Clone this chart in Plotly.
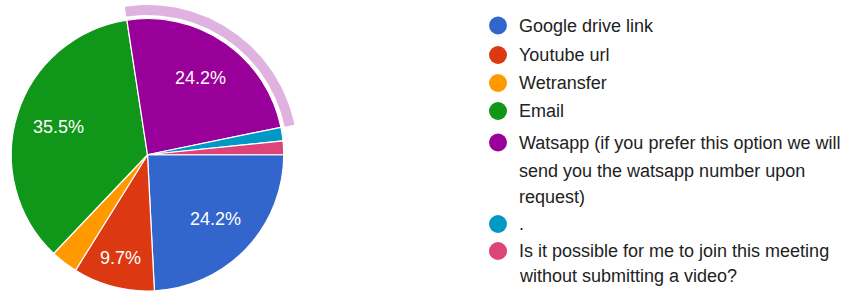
import numpy as np
import plotly.graph_objects as go

# ---------------- data ----------------
labels = [
    "Google drive link",
    "Youtube url",
    "Wetransfer",
    "Email",
    "Watsapp (if you prefer this option we will send you the watsapp number upon request)",
    ".",
    "Is it possible for me to join this meeting without submitting a video?",
]
legend_lines = [
    ["Google drive link"],
    ["Youtube url"],
    ["Wetransfer"],
    ["Email"],
    ["Watsapp (if you prefer this option we will", "send you the watsapp number upon", "request)"],
    ["."],
    ["Is it possible for me to join this meeting", "without submitting a video?"],
]
counts = [15, 6, 2, 22, 15, 1, 1]
colors = ["#3366CC", "#DC3912", "#FF9900", "#109618", "#990099", "#0099C6", "#DD4477"]
highlight_index = 4
highlight_color = "#E0B2E0"

# ---------------- layout constants ----------------
W, H = 849, 291
cx, cy, R = 147.5, 155.0, 136.5
FONT = "Arial, Liberation Sans, Helvetica, sans-serif"
# vertical centre (px from top) of every legend text line, in order
legend_line_y = [25.5, 55, 83, 111, 142.5, 170.5, 197, 224, 251, 275.5]
LX_DOT, LX_TEXT = 498, 517

total = sum(counts)
shares = [c / total for c in counts]
cum = np.cumsum([0] + shares)

fig = go.Figure()

# pie
x0, x1 = (cx - R) / W, (cx + R) / W
y1 = 1 - (cy - R) / H
fig.add_trace(go.Pie(
    labels=labels,
    values=counts,
    textinfo="none",
    marker=dict(colors=colors, line=dict(color="white", width=1.2)),
    sort=False,
    direction="clockwise",
    rotation=90,
    showlegend=False,
    hoverinfo="skip",
    domain=dict(x=[x0, x1], y=[0, y1]),
))

# slice labels placed on each slice bisector (clockwise from 3 o'clock)
for i, s in enumerate(shares):
    if s <= 0.05:
        continue
    mid = np.radians(360 * (cum[i] + cum[i + 1]) / 2)
    rf = 0.685 if s > 0.15 else 0.78
    fig.add_annotation(
        x=cx + rf * R * np.cos(mid), y=cy + rf * R * np.sin(mid),
        text=f"{s*100:.1f}%", showarrow=False, xref="x", yref="y",
        xanchor="center", yanchor="middle",
        font=dict(family=FONT, size=18, color="white"),
    )

# highlight ring around the selected slice (angles from cumulative data)
a_start = 360 * cum[highlight_index]
a_end = 360 * cum[highlight_index + 1]
th = np.radians(np.linspace(a_start, a_end, 80))
r_in, r_out = 140.0, 150.0
rx = np.concatenate([cx + r_out * np.cos(th), cx + r_in * np.cos(th[::-1])])
ry = np.concatenate([cy + r_out * np.sin(th), cy + r_in * np.sin(th[::-1])])
fig.add_trace(go.Scatter(
    x=rx, y=ry, mode="lines", fill="toself", fillcolor=highlight_color,
    line=dict(width=0), hoverinfo="skip", showlegend=False,
))

# custom legend
dot_y = []
line_idx = 0
for i, lines in enumerate(legend_lines):
    dot_y.append(legend_line_y[line_idx])
    for ln in lines:
        fig.add_annotation(
            x=LX_TEXT, y=legend_line_y[line_idx], text=ln, showarrow=False,
            xanchor="left", yanchor="middle", xref="x", yref="y",
            font=dict(family=FONT, size=18, color="#222222"),
        )
        line_idx += 1
fig.add_trace(go.Scatter(
    x=[LX_DOT] * len(dot_y), y=dot_y, mode="markers",
    marker=dict(size=18, color=colors, line=dict(width=0)),
    hoverinfo="skip", showlegend=False,
))

fig.update_layout(
    width=W, height=H,
    margin=dict(l=0, r=0, t=0, b=0),
    paper_bgcolor="white", plot_bgcolor="rgba(0,0,0,0)",
    xaxis=dict(range=[0, W], visible=False, domain=[0, 1], fixedrange=True),
    yaxis=dict(range=[H, 0], visible=False, domain=[0, 1], fixedrange=True),
    showlegend=False,
)

fig.write_html(
    "out.html",
    config={"displayModeBar": False},
    post_script="document.body.style.margin='0';document.body.style.overflow='hidden';",
)
